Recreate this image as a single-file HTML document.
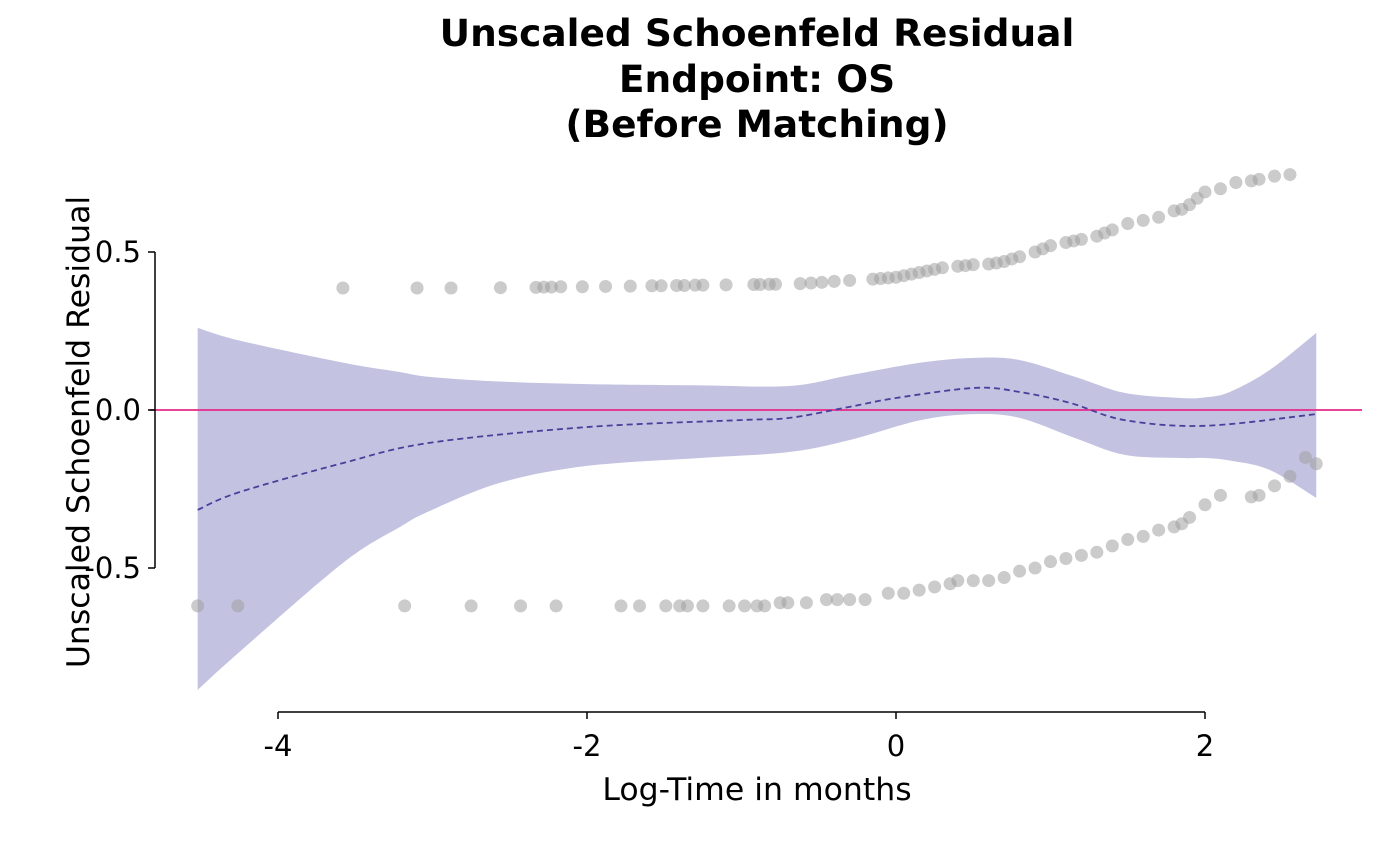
<!DOCTYPE html>
<html><head><meta charset="utf-8"><style>
html,body{margin:0;padding:0;background:#fff;}
svg{display:block;font-family:"DejaVu Sans","Liberation Sans",sans-serif;}
</style></head><body>
<svg id="chart" width="1400" height="866" viewBox="0 0 1400 866">
<g font-weight="bold" font-size="37.5" text-anchor="middle" fill="#000">
<text x="757" y="46">Unscaled Schoenfeld Residual</text>
<text x="757" y="92">Endpoint: OS</text>
<text x="757" y="137">(Before Matching)</text>
</g>
<g id="ci"></g>
<line id="ref" stroke="#e7298a" stroke-width="1.8"/>
<g id="pts"></g>
<path id="smooth" fill="none" stroke="#4a3f9a" stroke-width="1.8" stroke-dasharray="6,4"/>
<g id="axes" font-size="29" fill="#000"></g>
<text x="757" y="800" font-size="31.5" text-anchor="middle">Log-Time in months</text>
<text transform="translate(89,432) rotate(-90)" font-size="31.5" text-anchor="middle">Unscaled Schoenfeld Residual</text>
</svg>
<script>
const upperX=[-3.58,-3.10,-2.88,-2.56,-2.33,-2.28,-2.23,-2.17,-2.03,-1.88,-1.72,-1.58,-1.52,-1.42,-1.37,-1.30,-1.25,-1.1,-0.92,-0.88,-0.82,-0.78,-0.62,-0.55,-0.48,-0.4,-0.3,-0.15,-0.1,-0.05,0.0,0.05,0.1,0.15,0.2,0.25,0.3,0.4,0.45,0.5,0.6,0.65,0.7,0.75,0.8,0.9,0.95,1.0,1.1,1.15,1.2,1.3,1.35,1.4,1.5,1.6,1.7,1.8,1.85,1.9,1.95,2.0,2.1,2.2,2.3,2.35,2.45,2.55];
const upperY=[0.386,0.386,0.386,0.387,0.388,0.389,0.389,0.39,0.39,0.391,0.392,0.393,0.393,0.394,0.394,0.395,0.395,0.396,0.397,0.397,0.398,0.398,0.4,0.402,0.404,0.407,0.41,0.414,0.416,0.418,0.42,0.425,0.43,0.435,0.44,0.445,0.45,0.455,0.457,0.46,0.462,0.465,0.47,0.478,0.485,0.5,0.51,0.52,0.53,0.535,0.54,0.55,0.56,0.57,0.59,0.6,0.61,0.63,0.635,0.65,0.67,0.69,0.70,0.72,0.725,0.73,0.74,0.745];
const lowerX=[-4.52,-4.26,-3.18,-2.75,-2.43,-2.2,-1.78,-1.66,-1.49,-1.4,-1.35,-1.25,-1.08,-0.98,-0.9,-0.85,-0.75,-0.7,-0.58,-0.45,-0.38,-0.3,-0.2,-0.05,0.05,0.15,0.25,0.35,0.4,0.5,0.6,0.7,0.8,0.9,1.0,1.1,1.2,1.3,1.4,1.5,1.6,1.7,1.8,1.85,1.9,2.0,2.1,2.3,2.35,2.45,2.55,2.65,2.72];
const lowerY=[-0.62,-0.62,-0.62,-0.62,-0.62,-0.62,-0.62,-0.62,-0.62,-0.62,-0.62,-0.62,-0.62,-0.62,-0.62,-0.62,-0.61,-0.61,-0.61,-0.60,-0.60,-0.60,-0.60,-0.58,-0.58,-0.57,-0.56,-0.55,-0.54,-0.54,-0.54,-0.53,-0.51,-0.50,-0.48,-0.47,-0.46,-0.45,-0.43,-0.41,-0.40,-0.38,-0.37,-0.36,-0.34,-0.30,-0.27,-0.275,-0.27,-0.24,-0.21,-0.15,-0.17];
const fitX=[-4.52,-4.25,-3.58,-3.02,-2.0,-1.01,-0.69,-0.3,0.0,0.51,0.8,1.13,1.48,2.0,2.72];
const fitY=[-0.316,-0.26,-0.168,-0.104,-0.054,-0.032,-0.025,0.01,0.038,0.07,0.057,0.022,-0.032,-0.05,-0.013];
const ciX=[-4.52,-4.25,-3.58,-3.21,-3.02,-2.56,-2.0,-1.27,-0.69,-0.3,0.16,0.51,0.8,1.16,1.48,1.84,2.0,2.16,2.42,2.72];
const ciHi=[0.26,0.22,0.15,0.12,0.105,0.09,0.082,0.078,0.076,0.11,0.15,0.165,0.158,0.105,0.054,0.038,0.04,0.057,0.127,0.244];
const ciLo=[-0.886,-0.766,-0.484,-0.37,-0.32,-0.23,-0.177,-0.152,-0.133,-0.095,-0.032,-0.013,-0.025,-0.089,-0.142,-0.152,-0.152,-0.16,-0.19,-0.278];
const xTicks=[-4,-2,0,2];
const yTicks=[0.5,0.0,-0.5];
const yTickLabels=["0.5","0.0","-0.5"];

const sx=v=>896+v*154.5, sy=v=>410-v*316;
const NS="http://www.w3.org/2000/svg";
function mk(tag,attrs,parent){const e=document.createElementNS(NS,tag);for(const k in attrs)e.setAttribute(k,attrs[k]);parent.appendChild(e);return e;}
function smoothPath(xs,ys){let p=[];for(let i=0;i<xs.length;i++)p.push([sx(xs[i]),sy(ys[i])]);let d="M"+p[0][0]+","+p[0][1];
for(let i=0;i<p.length-1;i++){const p0=p[i-1]||p[i],p1=p[i],p2=p[i+1],p3=p[i+2]||p2;
d+=" C"+(p1[0]+(p2[0]-p0[0])/6)+","+(p1[1]+(p2[1]-p0[1])/6)+" "+(p2[0]-(p3[0]-p1[0])/6)+","+(p2[1]-(p3[1]-p1[1])/6)+" "+p2[0]+","+p2[1];}return d;}
const ci=document.getElementById('ci');
const hi=smoothPath(ciX,ciHi);
const loRev=smoothPath(ciX.slice().reverse(),ciLo.slice().reverse()).replace(/^M/,"L");
const band=mk('path',{d:hi+" "+loRev+" Z",fill:"#c3c2e1"},ci);


const ref=document.getElementById('ref');
ref.setAttribute('x1',150);ref.setAttribute('x2',1362);ref.setAttribute('y1',sy(0));ref.setAttribute('y2',sy(0));
const pts=document.getElementById('pts');
function dots(xs,ys){for(let i=0;i<xs.length;i++){const c=mk('circle',{cx:sx(xs[i]),cy:sy(ys[i]),r:6.5,fill:"#a0a0a0","fill-opacity":0.55},pts);

}}
dots(upperX,upperY);dots(lowerX,lowerY);
document.getElementById('smooth').setAttribute('d',smoothPath(fitX,fitY));
const ax=document.getElementById('axes');
mk('line',{x1:155,x2:155,y1:sy(0.5),y2:sy(-0.5),stroke:"#000","stroke-width":1.5},ax);
mk('line',{x1:sx(-4),x2:sx(2),y1:712,y2:712,stroke:"#000","stroke-width":1.5},ax);
yTicks.forEach((v,i)=>{mk('line',{x1:148,x2:155,y1:sy(v),y2:sy(v),stroke:"#000","stroke-width":1.5},ax);
const t=mk('text',{x:141,y:sy(v)+10,"text-anchor":"end"},ax);t.textContent=yTickLabels[i];

});
xTicks.forEach(v=>{mk('line',{x1:sx(v),x2:sx(v),y1:712,y2:719,stroke:"#000","stroke-width":1.5},ax);
const t=mk('text',{x:sx(v),y:756,"text-anchor":"middle"},ax);t.textContent=String(v);

});
</script>
</body></html>
